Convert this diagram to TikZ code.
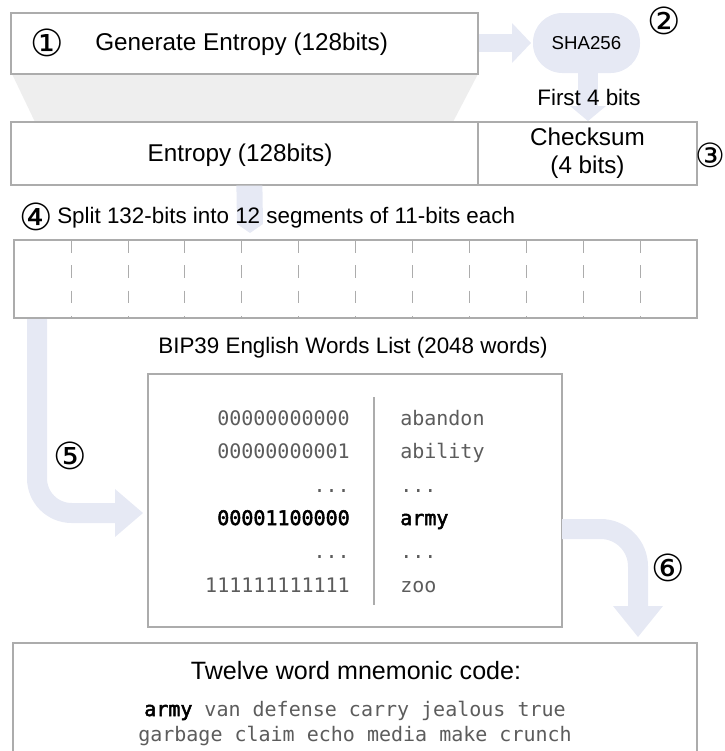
\documentclass[tikz,border=0pt]{standalone}
\usepackage{fontspec}
\setmainfont{Liberation Sans}
\newfontfamily\monofont{DejaVu Sans Mono}
\newfontfamily\monomedium[FakeBold=2.5]{DejaVu Sans Mono}
\newfontfamily\circfont{DejaVu Sans}
\usetikzlibrary{fit,calc}
\definecolor{flow}{RGB}{230,233,244}
\definecolor{edge}{RGB}{172,172,172}
\definecolor{code}{RGB}{92,92,92}
\definecolor{funnel}{RGB}{238,238,238}

\begin{document}
\begin{tikzpicture}[x=0.75pt,y=-0.75pt,
  box/.style={draw=edge, line width=0.9pt, fill=white, inner sep=0pt},
  lbl/.style={font=\fontsize{16.8}{21}\selectfont, inner sep=0pt, align=center},
  biglbl/.style={font=\fontsize{18.2}{21}\selectfont, inner sep=0pt, align=center},
  num/.style={font=\circfont\fontsize{28}{30}\selectfont, inner sep=0pt},
  mono/.style={font=\monofont\fontsize{15}{18}\selectfont, text=code, inner sep=0pt},
  monobold/.style={font=\monomedium\fontsize{15}{18}\selectfont, text=black, inner sep=0pt},
  flowline/.style={draw=flow, line width=15pt},
  segline/.style={draw=edge, line width=0.5pt, dash pattern=on 9.5pt off 9.5pt}
]
\useasboundingbox (0,0) rectangle (725,751);

% funnel from the generated entropy into the 128-bit field
\fill[funnel] (12,74) -- (478,74) -- (453,122) -- (35,122) -- cycle;

% step 1: entropy generation
\node[box, fit={(11,13)(478,74)}] (gen) {};
\node[num] (n1) at (47,43) {①};
\node[biglbl, anchor=west] (gentext) at (95,44) {Generate Entropy (128bits)};

% arrow to the hash and the hash itself
\fill[flow] (gen.east |- 0,34) rectangle (512,52);
\fill[flow] (512,23) -- (531,43) -- (512,63) -- cycle;
\node[fill=flow, rounded corners=22pt, inner sep=0pt, fit={(533,13)(640,73)}] (sha) {};
\fill[flow] (578,70) rectangle (598,108);
\coordinate (shatip) at (588,121);
\fill[flow] (570,106) -- (606,106) -- (shatip) -- cycle;
\node[font=\fontsize{14}{16}\selectfont, inner sep=0pt] (shatext) at (sha.center) {SHA256};
\node[num] (n2) at (664,21) {②};
\node[lbl] (first) at (589,97) {First 4 bits};

% step 3: entropy plus checksum
\node[box, fit={(11,122)(478,185)}] (ent) {};
\node[box, fit={(478,122)(697,185)}] (chk) {};
\node[biglbl] (enttext) at (240,155) {Entropy (128bits)};
\node[biglbl] (chktext) at (chk.center) {Checksum\\(4 bits)};
\node[num, font=\circfont\fontsize{25}{27}\selectfont] (n3) at (710,155) {③};

% arrow down into the split field
\fill[flow] ($(ent.south west)+(226,0)$) -- ++(26,0) -- (263,224) -- (250,233) -- (237,224) -- cycle;

% step 4: split into segments
\node[num] (n4) at (36,217) {④};
\node[lbl, anchor=west] (splittext) at (57,218) {Split 132-bits into 12 segments of 11-bits each};

% arrow 5 from the segments to the word list
\coordinate (f5a) at (37,310);
\coordinate (f5b) at (116,513);
\draw[flowline, rounded corners=26pt] (f5a) |- (f5b);
\fill[flow] (115,489) -- (143,513) -- (115,537) -- cycle;

\node[box, fit={(14,240)(697,318)}] (seg) {};
\foreach \k in {1,...,11}
  \draw[segline] ({14+\k*56.92},240) -- ({14+\k*56.92},318);
\node[num] (n5) at (70,456) {⑤};

% step 5: the word list
\node[lbl] (biptitle) at (353,348) {BIP39 English Words List (2048 words)};
\node[box, fit={(148,374)(562,627)}] (words) {};
\draw[edge, line width=0.8pt] (374,397) -- (374,605);

\node[mono, anchor=base east] (b1) at (350,425) {00000000000};
\node[mono, anchor=base west] (w1) at (400,425) {abandon};
\node[mono, anchor=base east] (b2) at (350,458) {00000000001};
\node[mono, anchor=base west] (w2) at (400,458) {ability};
\node[mono, anchor=base east] (b3) at (350,492) {...};
\node[mono, anchor=base west] (w3) at (400,492) {...};
\node[monobold, anchor=base east] (b4) at (350,525) {00001100000};
\node[monobold, anchor=base west] (w4) at (400,525) {army};
\node[mono, anchor=base east] (b5) at (350,558) {...};
\node[mono, anchor=base west] (w5) at (400,558) {...};
\node[mono, anchor=base east] (b6) at (350,592) {111111111111};
\node[mono, anchor=base west] (w6) at (400,592) {zoo};

% arrow 6 from the word list to the mnemonic
\coordinate (f6a) at (562,529);
\coordinate (f6b) at (638,608);
\draw[flowline, rounded corners=28pt] (f6a) -| (f6b);
\fill[flow] (613,606) -- (663,606) -- (638,637) -- cycle;
\node[num] (n6) at (668,568) {⑥};

% step 6: the mnemonic
\node[box, fit={(13,643)(697,780)}] (mnem) {};
\node[font=\fontsize{18.8}{21}\selectfont, inner sep=0pt] (mtitle) at (356,671) {Twelve word mnemonic code:};
\node[mono, anchor=base] (mline1) at (355,716) {{\monomedium\color{black}army} van defense carry jealous true};
\node[mono, anchor=base] (mline2) at (355,741) {garbage claim echo media make crunch};
\end{tikzpicture}
\end{document}
